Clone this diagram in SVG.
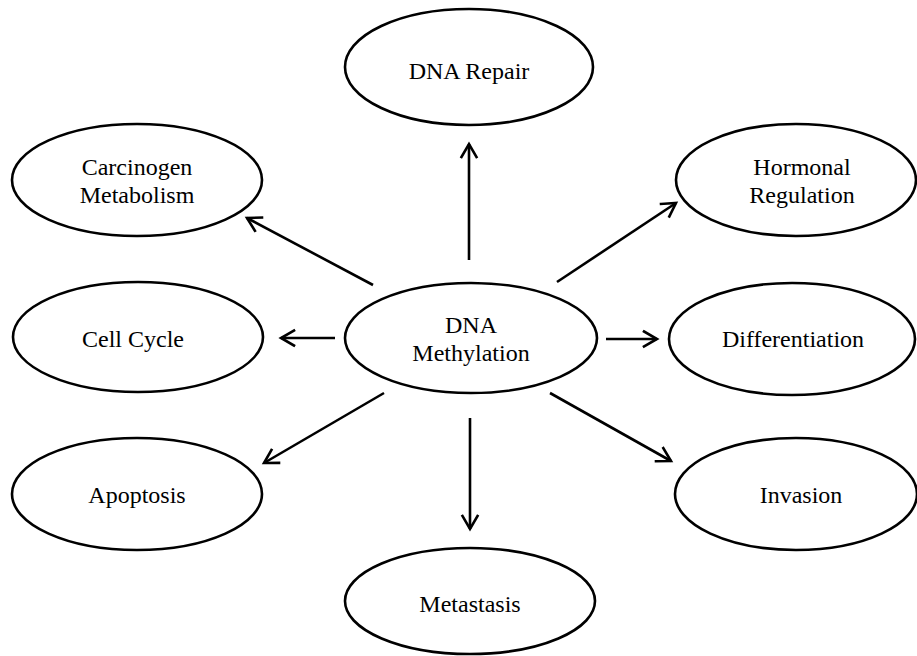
<svg xmlns="http://www.w3.org/2000/svg" width="917" height="656" viewBox="0 0 917 656">
<style>
.n ellipse{fill:#fff;stroke:#000;stroke-width:2.6}
.n text{font-family:"Liberation Serif","Times New Roman",serif;font-size:24px;fill:#000;text-anchor:middle}
.c line{stroke:#000;stroke-width:2.6;fill:none}
</style>
<defs>
<marker id="ah" markerUnits="userSpaceOnUse" markerWidth="30" markerHeight="30" refX="0" refY="0" viewBox="-15 -15 30 30" orient="auto" overflow="visible">
<path d="M-13,-7.5 L0,0 L-13,7.5" fill="none" stroke="#000" stroke-width="2.6" stroke-linecap="square" stroke-linejoin="miter"/>
</marker>
</defs>
<rect width="917" height="656" fill="#fff"/>
<g class="c" id="connectors">
<line x1="469" y1="260" x2="469" y2="144" marker-end="url(#ah)"/>
<line x1="373" y1="285" x2="247" y2="218" marker-end="url(#ah)"/>
<line x1="557" y1="282" x2="676" y2="203" marker-end="url(#ah)"/>
<line x1="335" y1="338" x2="281" y2="338" marker-end="url(#ah)"/>
<line x1="606" y1="339" x2="657" y2="339" marker-end="url(#ah)"/>
<line x1="384" y1="393" x2="264" y2="463" marker-end="url(#ah)"/>
<line x1="470" y1="418" x2="470" y2="529" marker-end="url(#ah)"/>
<line x1="550" y1="393" x2="671" y2="461" marker-end="url(#ah)"/>
</g>
<g class="n" id="dna-repair"><ellipse cx="469" cy="67" rx="124" ry="58"/><text x="469" y="79">DNA Repair</text></g>
<g class="n" id="dna-methylation"><ellipse cx="471" cy="338" rx="126" ry="55"/><text x="471" y="333">DNA</text><text x="471" y="361">Methylation</text></g>
<g class="n" id="carcinogen-metabolism"><ellipse cx="137" cy="180" rx="125" ry="56"/><text x="137" y="175">Carcinogen</text><text x="137" y="203">Metabolism</text></g>
<g class="n" id="hormonal-regulation"><ellipse cx="796" cy="180" rx="120" ry="56"/><text x="802" y="175">Hormonal</text><text x="802" y="203">Regulation</text></g>
<g class="n" id="cell-cycle"><ellipse cx="138" cy="337" rx="125" ry="55"/><text x="133" y="347">Cell Cycle</text></g>
<g class="n" id="differentiation"><ellipse cx="792" cy="339" rx="123" ry="56"/><text x="793" y="347">Differentiation</text></g>
<g class="n" id="apoptosis"><ellipse cx="137" cy="494" rx="125" ry="56"/><text x="137" y="503">Apoptosis</text></g>
<g class="n" id="invasion"><ellipse cx="796" cy="494" rx="121" ry="56"/><text x="801" y="503">Invasion</text></g>
<g class="n" id="metastasis"><ellipse cx="470" cy="601" rx="125" ry="53"/><text x="470" y="612">Metastasis</text></g>
</svg>
